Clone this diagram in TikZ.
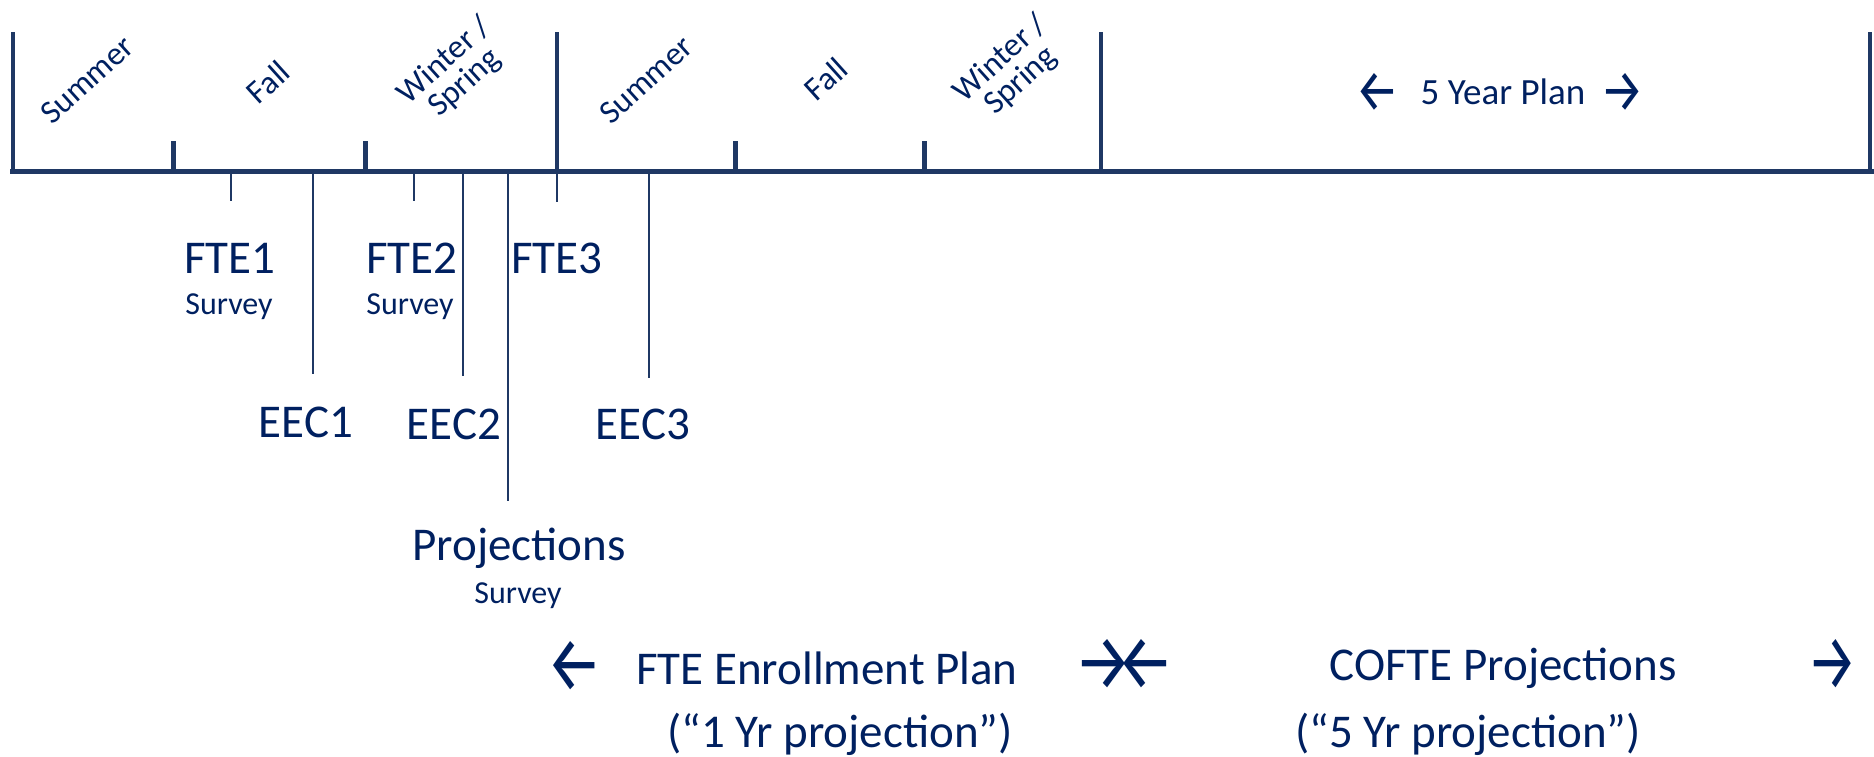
\documentclass[tikz,border=0pt]{standalone}
\usepackage{fontspec}
\usepackage{graphicx}
\setmainfont{Carlito}
\newfontfamily\arrowfont{Fira Sans}
\definecolor{linec}{HTML}{1F3864}
\definecolor{textc}{HTML}{002060}
\newcommand{\myLarr}[2]{\resizebox{#1}{#2}{\arrowfont ←}}
\newcommand{\myRarr}[2]{\resizebox{#1}{#2}{\arrowfont →}}
\begin{document}
\begin{tikzpicture}[x=1pt,y=-1pt,
  axis/.style={line width=5pt, draw=linec},
  major/.style={line width=4.5pt, draw=linec},
  minor/.style={line width=5pt, draw=linec},
  leader/.style={line width=1.3pt, draw=linec},
  season/.style={text=textc, font=\fontsize{33}{30}\selectfont, rotate=42, align=center, inner sep=0pt},
  big/.style={text=textc, font=\fontsize{47}{50}\selectfont, inner sep=0pt},
  small/.style={text=textc, font=\fontsize{32}{34}\selectfont, inner sep=0pt},
  plan/.style={text=textc, font=\fontsize{37}{40}\selectfont, inner sep=0pt},
  arr/.style={text=textc, inner sep=0pt},
]
\useasboundingbox (0,0) rectangle (1874,756);

% axis coordinates
\coordinate (a0) at (10,171);
\coordinate (a1) at (1874,171);
\foreach \n/\x in {t0/13,t3/557,t6/1101,t9/1870}{
  \coordinate (\n top) at (\x,32);
  \coordinate (\n bot) at (\x,173);
}
\foreach \n/\x in {t1/173,t2/365,t4/735,t5/924}{
  \coordinate (\n top) at (\x,141);
  \coordinate (\n bot) at (\x,171);
}
\draw[axis] (a0) -- (a1);
\foreach \n in {t0,t3,t6,t9}{ \draw[major] (\n top) -- (\n bot); }
\foreach \n in {t1,t2,t4,t5}{ \draw[minor] (\n top) -- (\n bot); }

% season labels
\node[season] (s1) at (87,80) {Summer};
\node[season] (f1) at (268,82) {Fall};
\node[season] (w1) at (455,72) {Winter /\\Spring};
\node[season] (s2) at (646,80) {Summer};
\node[season] (f2) at (826,79) {Fall};
\node[season] (w2) at (1011,70) {Winter /\\Spring};
\node[arr] (la0) at (1377,92) {\myLarr{44pt}{38pt}};
\node[plan] (fyp) at (1503,92) {5 Year Plan};
\node[arr] (ra0) at (1622,92) {\myRarr{44pt}{38pt}};

% event markers
\foreach \n/\x/\y in {m1/231/201, m2/313/374, m3/414/201, m4/463/376, m5/508/501, m6/557/202, m7/649/378}{
  \coordinate (\n top) at (\x,173);
  \coordinate (\n bot) at (\x,\y);
  \draw[leader] (\n top) -- (\n bot);
}

\node[big] (fte1) at (230,258) {FTE1};
\node[small] (sv1) at (229,307) {Survey};
\node[big] (fte2) at (412,258) {FTE2};
\node[small] (sv2) at (410,307) {Survey};
\node[big] (fte3) at (557,258) {FTE3};
\node[big] (eec1) at (306,422) {EEC1};
\node[big] (eec2) at (454,424) {EEC2};
\node[big] (eec3) at (643,424) {EEC3};
\node[big] (proj) at (519,548) {Projections};
\node[small] (sv3) at (518,596) {Survey};

% bottom plans
\node[arr] (la1) at (574,666) {\myLarr{56pt}{50pt}};
\node[big] (fep) at (827,668) {FTE Enrollment Plan};
\node[big] (oyp) at (840,734) {(“1 Yr projection”)};
\node[arr] (ra1) at (1103,664) {\myRarr{58pt}{50pt}};
\node[arr] (la2) at (1145,664) {\myLarr{58pt}{50pt}};
\node[big] (cof) at (1503,668) {COFTE Projections};
\node[big] (fyp2) at (1468,734) {(“5 Yr projection”)};
\node[arr] (ra2) at (1832,664) {\myRarr{50pt}{50pt}};
\end{tikzpicture}
\end{document}
